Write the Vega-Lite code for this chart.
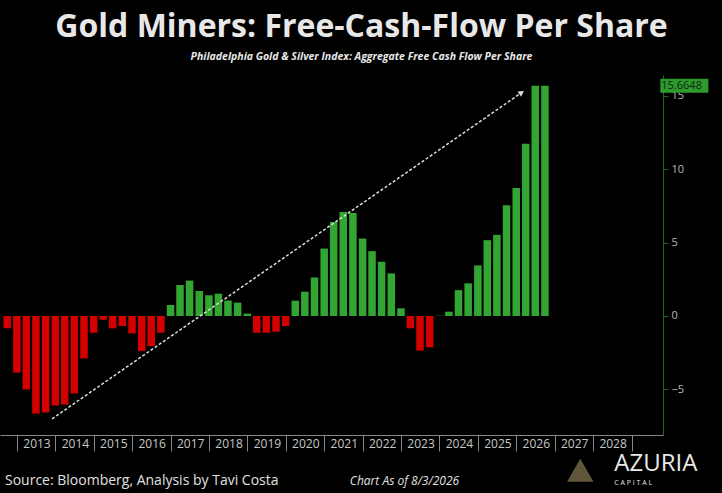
{
  "$schema": "https://vega.github.io/schema/vega-lite/v6.json",
  "autosize": "none",
  "width": 663,
  "height": 360,
  "padding": {"left": 0, "top": 75, "right": 59, "bottom": 58},
  "background": "#000000",
  "title": {
    "text": "Gold Miners: Free-Cash-Flow Per Share",
    "subtitle": "Philadelphia Gold & Silver Index: Aggregate Free Cash Flow Per Share",
    "anchor": "middle",
    "dx": 30,
    "offset": 12,
    "font": "Open Sans",
    "fontSize": 32,
    "fontWeight": "bold",
    "color": "#e8e8e8",
    "subtitleFont": "Open Sans",
    "subtitleFontSize": 10.5,
    "subtitleFontStyle": "italic",
    "subtitleFontWeight": "bold",
    "subtitleColor": "#e8e8e8",
    "subtitlePadding": 8
  },
  "layer": [
    {
      "data": {"values": [
        {"date": "2012-09-30", "fcf": -0.84}, {"date": "2012-12-31", "fcf": -3.84},
        {"date": "2013-03-31", "fcf": -5.0}, {"date": "2013-06-30", "fcf": -6.64},
        {"date": "2013-09-30", "fcf": -6.57}, {"date": "2013-12-31", "fcf": -6.09},
        {"date": "2014-03-31", "fcf": -6.02}, {"date": "2014-06-30", "fcf": -5.27},
        {"date": "2014-09-30", "fcf": -2.89}, {"date": "2014-12-31", "fcf": -1.14},
        {"date": "2015-03-31", "fcf": -0.25}, {"date": "2015-06-30", "fcf": -0.84},
        {"date": "2015-09-30", "fcf": -0.68}, {"date": "2015-12-31", "fcf": -1.18},
        {"date": "2016-03-31", "fcf": -2.39}, {"date": "2016-06-30", "fcf": -2.05},
        {"date": "2016-09-30", "fcf": -1.14}, {"date": "2016-12-31", "fcf": 0.75},
        {"date": "2017-03-31", "fcf": 2.11}, {"date": "2017-06-30", "fcf": 2.41},
        {"date": "2017-09-30", "fcf": 1.7}, {"date": "2017-12-31", "fcf": 1.41},
        {"date": "2018-03-31", "fcf": 1.52}, {"date": "2018-06-30", "fcf": 1.05},
        {"date": "2018-09-30", "fcf": 0.91}, {"date": "2018-12-31", "fcf": 0.16},
        {"date": "2019-03-31", "fcf": -1.14}, {"date": "2019-06-30", "fcf": -1.14},
        {"date": "2019-09-30", "fcf": -1.07}, {"date": "2019-12-31", "fcf": -0.68},
        {"date": "2020-03-31", "fcf": 1.04}, {"date": "2020-06-30", "fcf": 1.65},
        {"date": "2020-09-30", "fcf": 2.62}, {"date": "2020-12-31", "fcf": 4.59},
        {"date": "2021-03-31", "fcf": 6.4}, {"date": "2021-06-30", "fcf": 7.08},
        {"date": "2021-09-30", "fcf": 7.01}, {"date": "2021-12-31", "fcf": 5.27},
        {"date": "2022-03-31", "fcf": 4.41}, {"date": "2022-06-30", "fcf": 3.69},
        {"date": "2022-09-30", "fcf": 2.9}, {"date": "2022-12-31", "fcf": 0.52},
        {"date": "2023-03-31", "fcf": -0.84}, {"date": "2023-06-30", "fcf": -2.35},
        {"date": "2023-09-30", "fcf": -2.13}, {"date": "2023-12-31", "fcf": 0.02},
        {"date": "2024-03-31", "fcf": 0.29}, {"date": "2024-06-30", "fcf": 1.76},
        {"date": "2024-09-30", "fcf": 2.22}, {"date": "2024-12-31", "fcf": 3.44},
        {"date": "2025-03-31", "fcf": 5.16}, {"date": "2025-06-30", "fcf": 5.52},
        {"date": "2025-09-30", "fcf": 7.53}, {"date": "2025-12-31", "fcf": 8.71},
        {"date": "2026-03-31", "fcf": 11.72}, {"date": "2026-06-30", "fcf": 15.66},
        {"date": "2026-09-30", "fcf": 15.66}
      ]},
      "mark": {"type": "bar", "size": 7.5, "orient": "vertical"},
      "encoding": {
        "x": {
          "field": "date", "type": "temporal",
          "scale": {"domain": ["2012-09-09", "2029-09-09"]},
          "axis": {
            "title": null, "grid": false, "domainColor": "#888888",
            "tickColor": "#888888", "tickSize": 16, "labelPadding": -13,
            "tickCount": {"interval": "year", "step": 1},
            "labelExpr": "year(datum.value) > 2028 ? '' : timeFormat(datum.value, '%Y')",
            "labelOffset": 19.5, "labelAlign": "center", "labelBaseline": "top",
            "labelColor": "#c8c8c8", "labelFont": "Open Sans", "labelFontSize": 12,
            "labelFlush": false, "labelOverlap": false
          }
        },
        "y": {
          "field": "fcf", "type": "quantitative",
          "scale": {"domain": [-8.1, 16.4], "nice": false, "zero": false},
          "axis": {
            "orient": "right", "title": null, "grid": false,
            "values": [-5, 0, 5, 10, 15],
            "domainColor": "#1f6a1f", "tickColor": "#1f6a1f", "tickSize": 5,
            "labelColor": "#b8b8b8", "labelFont": "Open Sans", "labelFontSize": 11,
            "labelPadding": 3
          }
        },
        "y2": {"datum": 0},
        "color": {
          "condition": {"test": "datum.fcf < 0", "value": "#d40000"},
          "value": "#33a532"
        }
      }
    },
    {
      "data": {"values": [
        {"date": "2013-12-01", "v": -7.0},
        {"date": "2026-02-20", "v": 15.2}
      ]},
      "mark": {"type": "line", "color": "#dddddd", "strokeDash": [3, 2], "strokeWidth": 1.5},
      "encoding": {
        "x": {"field": "date", "type": "temporal"},
        "y": {"field": "v", "type": "quantitative"}
      }
    },
    {
      "data": {"values": [{"date": "2026-02-20", "v": 15.2}]},
      "mark": {"type": "point", "shape": "triangle-right", "filled": true, "color": "#dddddd", "size": 40, "angle": -34, "opacity": 1},
      "encoding": {
        "x": {"field": "date", "type": "temporal"},
        "y": {"field": "v", "type": "quantitative"}
      }
    },
    {
      "data": {"values": [{"x0": "2029-10-01", "x1": "2031-01-01", "v": 15.66, "label": "15.6648"}]},
      "layer": [
        {
          "mark": {"type": "rect", "color": "#2e9a2e", "height": 14, "clip": false},
          "encoding": {
            "x": {"field": "x0", "type": "temporal"},
            "x2": {"field": "x1"},
            "y": {"field": "v", "type": "quantitative"}
          }
        },
        {
          "mark": {"type": "text", "align": "left", "baseline": "middle", "dx": 1, "font": "Open Sans", "fontSize": 11, "color": "#0a2a0a"},
          "encoding": {
            "x": {"field": "x0", "type": "temporal"},
            "y": {"field": "v", "type": "quantitative"},
            "text": {"field": "label"}
          }
        }
      ]
    },
    {
      "data": {"values": [{"date": "2012-09-09", "v": -11.2, "t": "Source: Bloomberg, Analysis by Tavi Costa"}]},
      "mark": {"type": "text", "align": "left", "baseline": "middle", "font": "Open Sans", "fontSize": 14, "color": "#e0e0e0", "clip": false},
      "encoding": {
        "x": {"field": "date", "type": "temporal"},
        "y": {"field": "v", "type": "quantitative"},
        "text": {"field": "t"}
      }
    },
    {
      "data": {"values": [{"date": "2021-09-01", "v": -11.2, "t": "Chart As of 8/3/2026"}]},
      "mark": {"type": "text", "align": "left", "baseline": "middle", "font": "Open Sans", "fontSize": 12, "fontStyle": "italic", "color": "#e0e0e0", "clip": false},
      "encoding": {
        "x": {"field": "date", "type": "temporal"},
        "y": {"field": "v", "type": "quantitative"},
        "text": {"field": "t"}
      }
    },
    {
      "data": {"values": [
        {"date": "2028-07-20", "v": -10.1, "t": "AZURIA", "fs": 24},
        {"date": "2028-07-20", "v": -11.4, "t": "C   A   P   I   T   A   L", "fs": 7}
      ]},
      "mark": {"type": "text", "align": "left", "baseline": "middle", "font": "Open Sans", "color": "#e8e8e8", "clip": false},
      "encoding": {
        "x": {"field": "date", "type": "temporal"},
        "y": {"field": "v", "type": "quantitative"},
        "text": {"field": "t"},
        "size": {"field": "fs", "type": "quantitative", "scale": null}
      }
    },
    {
      "data": {"values": [{"date": "2027-09-01", "v": -10.5}]},
      "mark": {"type": "point", "shape": "triangle-up", "filled": true, "color": "#8a7a55", "size": 700, "clip": false},
      "encoding": {
        "x": {"field": "date", "type": "temporal"},
        "y": {"field": "v", "type": "quantitative"}
      }
    }
  ],
  "config": {"view": {"stroke": null}}
}
